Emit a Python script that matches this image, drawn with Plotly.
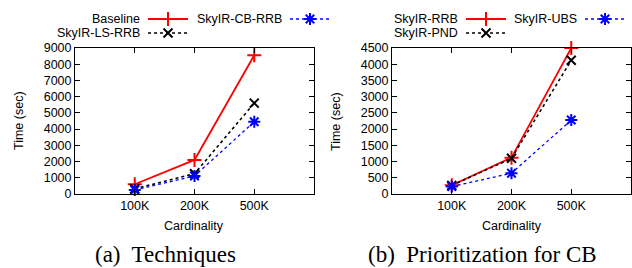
import plotly.graph_objects as go

categories = ["100K", "200K", "500K"]

# Panel (a) Techniques
baseline = [600, 2100, 8550]
ls_rrb = [320, 1250, 5600]
cb_rrb = [250, 1110, 4450]

# Panel (b) Prioritization for CB
rrb = [270, 1120, 4500]
pnd = [260, 1100, 4120]
ubs = [230, 640, 2280]

W, H = 632, 268
SANS = "Liberation Sans, Arial, sans-serif"
SERIF = "Liberation Serif, Times New Roman, serif"
RED, BLACK, BLUE = "#ff0000", "#000000", "#0000ff"

styles = {
    "red": dict(line=dict(color=RED, width=1.8, dash="solid"),
                marker=dict(symbol="cross-thin-open", size=10, color=RED, line=dict(color=RED, width=2))),
    "black": dict(line=dict(color=BLACK, width=1.6, dash="dot"),
                  marker=dict(symbol="x-thin-open", size=9, color=BLACK, line=dict(color=BLACK, width=2))),
    "blue": dict(line=dict(color=BLUE, width=1.3, dash="dot"),
                 marker=dict(symbol="asterisk-open", size=10, color=BLUE, line=dict(color=BLUE, width=2))),
}

fig = go.Figure()

def add(xax, yax, y, style):
    s = styles[style]
    fig.add_trace(go.Scatter(x=categories, y=y, mode="lines+markers", xaxis=xax, yaxis=yax,
                             line=s["line"], marker=s["marker"], showlegend=False, cliponaxis=False))

add("x", "y", baseline, "red")
add("x", "y", ls_rrb, "black")
add("x", "y", cb_rrb, "blue")
add("x2", "y2", rrb, "red")
add("x2", "y2", pnd, "black")
add("x2", "y2", ubs, "blue")

# Legend keys (custom, gnuplot style: text then sample) on an overlay pixel axis
legend_items = [
    # label, text right edge, line start, line end, row y, style
    ("Baseline", 141, 148, 188, 19, "red"),
    ("SkyIR-LS-RRB", 141, 148, 188, 33, "black"),
    ("SkyIR-CB-RRB", 283, 290, 330, 19, "blue"),
    ("SkyIR-RRB", 459, 466, 506, 19, "red"),
    ("SkyIR-PND", 459, 466, 506, 33, "black"),
    ("SkyIR-UBS", 578, 585, 625, 19, "blue"),
]
annotations = []
for label, tx, x0, x1, yy, st in legend_items:
    s = styles[st]
    fig.add_trace(go.Scatter(x=[x0, x1], y=[yy, yy], mode="lines", xaxis="x3", yaxis="y3",
                             line=s["line"], showlegend=False, hoverinfo="skip"))
    fig.add_trace(go.Scatter(x=[(x0 + x1) / 2], y=[yy], mode="markers", xaxis="x3", yaxis="y3",
                             marker=s["marker"], showlegend=False, hoverinfo="skip"))
    annotations.append(dict(x=tx / W, y=1 - yy / H, xref="paper", yref="paper", text=label,
                            showarrow=False, xanchor="right", yanchor="middle", borderpad=0,
                            font=dict(family=SANS, size=12.5, color="black")))

def txt(x, y, text, font, angle=0):
    return dict(x=x / W, y=1 - y / H, xref="paper", yref="paper", text=text, showarrow=False,
                xanchor="center", yanchor="middle", textangle=angle, font=font)

sans_font = dict(family=SANS, size=12.5, color="black")
serif_font = dict(family=SERIF, size=23, color="black")

# Axis titles and captions
annotations += [
    txt(194, 226, "Cardinality", sans_font),
    txt(512, 226, "Cardinality", sans_font),
    txt(19, 121, "Time (sec)", sans_font, -90),
    txt(336, 121, "Time (sec)", sans_font, -90),
    txt(165, 254, "(a)  Techniques", serif_font),
    txt(482, 254, "(b)  Prioritization for CB", serif_font),
]

plot_y0 = 1 - 194 / H
plot_y1 = 1 - 48 / H

axis_common = dict(showgrid=False, zeroline=False, showline=True, linecolor="black", linewidth=1,
                   mirror="ticks", ticks="inside", ticklen=5, tickcolor="black", tickwidth=1,
                   automargin=False, tickfont=sans_font)

fig.update_layout(
    template="none",
    width=W, height=H, margin=dict(l=0, r=0, t=0, b=0, pad=0),
    paper_bgcolor="white", plot_bgcolor="rgba(0,0,0,0)",
    xaxis=dict(domain=[75 / W, 314 / W], anchor="y", type="category", range=[-1, 3], **axis_common),
    yaxis=dict(domain=[plot_y0, plot_y1], anchor="x", range=[0, 9000], dtick=1000, **axis_common),
    xaxis2=dict(domain=[392 / W, 631 / W], anchor="y2", type="category", range=[-1, 3], **axis_common),
    yaxis2=dict(domain=[plot_y0, plot_y1], anchor="x2", range=[0, 4500], dtick=500, **axis_common),
    xaxis3=dict(domain=[0, 1], anchor="y3", range=[0, W], visible=False, fixedrange=True),
    yaxis3=dict(domain=[0, 1], anchor="x3", range=[H, 0], visible=False, fixedrange=True),
    annotations=annotations,
)

fig.write_html("out.html", config={"displayModeBar": False},
               post_script="document.body.style.margin='0';document.body.style.overflow='hidden';")
